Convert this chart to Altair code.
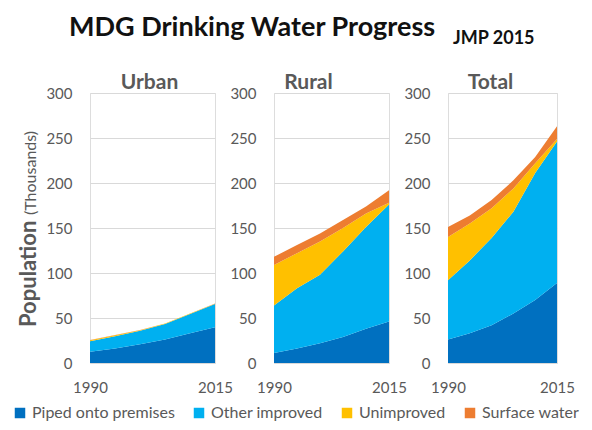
import altair as alt
import pandas as pd

FONT = "Lato"
GREY = "#595959"

years = [1990, 1995, 2000, 2005, 2010, 2015]
categories = ["Piped onto premises", "Other improved", "Unimproved", "Surface water"]
colors = ["#0070C0", "#00B0F0", "#FFC000", "#ED7D31"]
panels = ["Urban", "Rural", "Total"]
y_ticks = [0, 50, 100, 150, 200, 250, 300]
x_ticks = [1990, 2015]

urban_piped = [12.6, 16, 20.7, 26, 33, 39.6]
urban_other = [11.6, 13.8, 15.0, 17.2, 21.4, 26.0]
urban_unimproved = [1.0, 0.9, 0.8, 0.6, 0.5, 0.3]
urban_surface = [0.3, 0.3, 0.2, 0.2, 0.1, 0.1]

rural_piped = [11, 16, 22, 29, 38, 46]
rural_other = [53, 67, 76, 95, 113, 130]
rural_unimproved = [45, 39, 37, 26, 15, 2]
rural_surface = [9, 9, 9, 9, 8, 14]

total_piped = [26, 33, 42, 55, 70, 89]
total_other = [66, 81, 97, 113, 141, 157]
total_unimproved = [48, 41, 33, 26, 11, 3]
total_surface = [11, 9, 9, 9, 7, 14]

main_title = ["MDG Drinking Water Progress"]
sub_title = ["JMP 2015"]
y_title_main = ["Population"]
y_title_unit = ["(Thousands)"]

series = {
    "Urban": [urban_piped, urban_other, urban_unimproved, urban_surface],
    "Rural": [rural_piped, rural_other, rural_unimproved, rural_surface],
    "Total": [total_piped, total_other, total_unimproved, total_surface],
}

rows = []
for p in panels:
    for ci, (cat, vals) in enumerate(zip(categories, series[p])):
        for y, v in zip(years, vals):
            rows.append({"panel": p, "year": y, "category": cat, "value": v, "order": ci})
df = pd.DataFrame(rows)

widths = {"Urban": 125, "Rural": 115, "Total": 109}
title_dx = {"Urban": -3, "Rural": -23, "Total": -12}
H = 270


def panel(name):
    w = widths[name]
    area = alt.Chart(df[df.panel == name]).mark_area(interpolate="linear").encode(
        x=alt.X("year:Q",
                scale=alt.Scale(domain=[1990, 2015], nice=False, zero=False),
                axis=alt.Axis(values=x_ticks, format="d", labelFlush=False, grid=False,
                              ticks=False, tickSize=0, domain=False, labelPadding=17,
                              labelFontSize=15, labelColor=GREY, labelFont=FONT, title=None)),
        y=alt.Y("value:Q", stack="zero",
                scale=alt.Scale(domain=[0, 300], nice=False),
                axis=alt.Axis(values=y_ticks, grid=True, gridColor="#D9D9D9", gridWidth=1,
                              ticks=False, tickSize=0, domain=False, labelPadding=18,
                              labelFontSize=15, labelColor=GREY, labelFont=FONT, title=None)),
        color=alt.Color("category:N",
                        scale=alt.Scale(domain=categories, range=colors),
                        legend=alt.Legend(orient="none", legendX=-78, legendY=312,
                                          direction="horizontal", title=None,
                                          symbolType="square", symbolSize=110, symbolStrokeWidth=0,
                                          labelFontSize=16, labelColor=GREY, labelFont=FONT,
                                          columnPadding=16, labelOffset=4, labelLimit=0)),
        order=alt.Order("order:Q", sort="ascending"),
    )
    ttl = alt.Chart(pd.DataFrame({"t": [name]})).mark_text(
        font=FONT, fontSize=21, fontWeight="bold", color=GREY, align="center", baseline="alphabetic"
    ).encode(text="t:N", x=alt.value(w / 2 + title_dx[name]), y=alt.value(-4))
    layers = [area, ttl]
    if name == "Urban":
        layers.append(alt.Chart(pd.DataFrame({"t": main_title})).mark_text(
            font=FONT, fontSize=27, fontWeight="bold", color="#111111", align="left", baseline="alphabetic"
        ).encode(text="t:N", x=alt.value(-21), y=alt.value(-57)))
        layers.append(alt.Chart(pd.DataFrame({"t": sub_title})).mark_text(
            font=FONT, fontSize=18, fontWeight="bold", color="#111111", align="left", baseline="alphabetic"
        ).encode(text="t:N", x=alt.value(363), y=alt.value(-49)))
        layers.append(alt.Chart(pd.DataFrame({"t": y_title_main})).mark_text(
            font=FONT, fontSize=22, fontWeight="bold", color=GREY, align="left", baseline="alphabetic", angle=270
        ).encode(text="t:N", x=alt.value(-54), y=alt.value(234)))
        layers.append(alt.Chart(pd.DataFrame({"t": y_title_unit})).mark_text(
            font=FONT, fontSize=16, color=GREY, align="left", baseline="alphabetic", angle=270
        ).encode(text="t:N", x=alt.value(-54), y=alt.value(122)))
    return alt.layer(*layers).properties(width=w, height=H)


chart = alt.hconcat(*[panel(p) for p in panels], spacing=59, bounds="flush").properties(
    padding={"left": 4, "top": 5, "right": 0, "bottom": 0},
).configure_view(stroke=None).configure(font=FONT)

chart.save("out.html", embed_options={"renderer": "svg", "actions": False})
